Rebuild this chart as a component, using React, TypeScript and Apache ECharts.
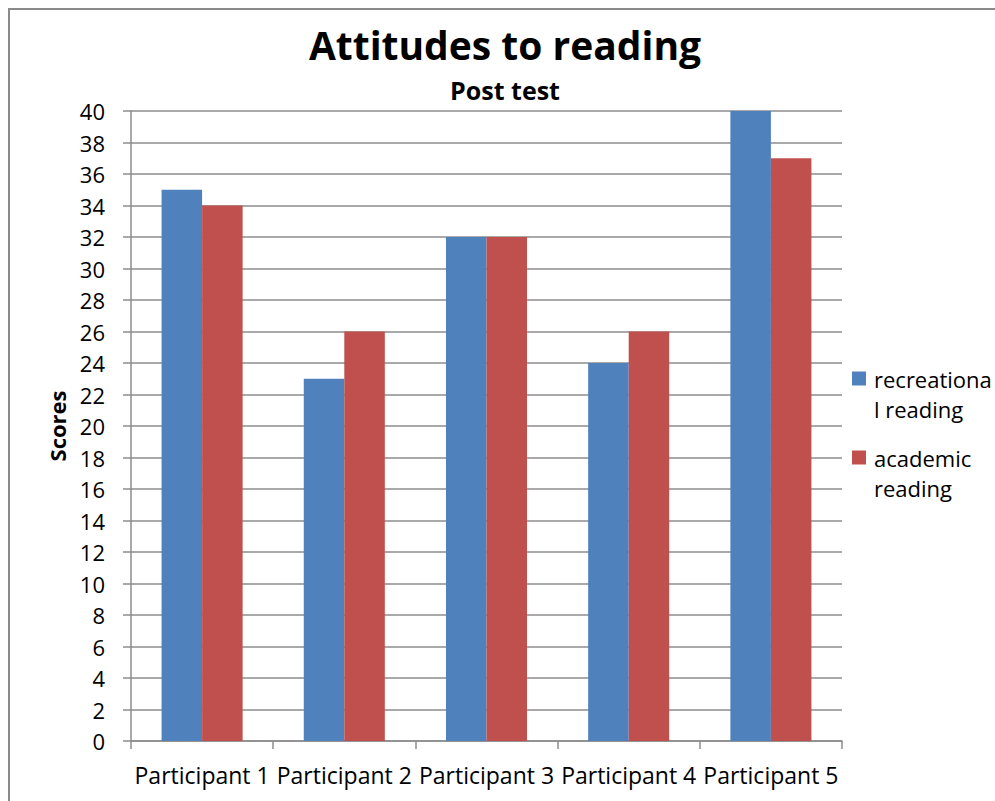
import React, { useEffect, useRef } from "react";
import * as echarts from "echarts";

const categories = ["Participant 1", "Participant 2", "Participant 3", "Participant 4", "Participant 5"];
const recreational = [35, 23, 32, 24, 40];
const academic = [34, 26, 32, 26, 37];
const seriesNames = ["recreational reading", "academic reading"];
const legendLabels = [" \nrecreationa\nl reading", " \nacademic\nreading"];
const seriesColors = ["#4F81BD", "#C0504D"];
const yMin = 0;
const yMax = 40;
const yInterval = 2;

const FONT = "'Open Sans', sans-serif";
const GRID_COLOR = "#8c8c8c";

export default function App() {
  const ref = useRef<HTMLDivElement>(null);
  useEffect(() => {
    if (!ref.current) return;
    const chart = echarts.init(ref.current, undefined, { renderer: "svg" });
    const legendTops = [380 - 46.5, 459 - 46.5];
    chart.setOption({
      animation: false,
      backgroundColor: "#ffffff",
      textStyle: { fontFamily: FONT, color: "#000" },
      graphic: [
        {
          type: "rect",
          shape: { x: 9, y: 9, width: 1100, height: 900 },
          style: { fill: "none", stroke: "#8a8a8a", lineWidth: 2 },
          silent: true,
        },
      ],
      title: [
        {
          text: "Attitudes to reading",
          left: 505,
          textAlign: "center",
          top: 19,
          padding: 0,
          textStyle: { fontFamily: FONT, fontSize: 39, fontWeight: "bold", color: "#000", lineHeight: 50 },
        },
        {
          text: "Post test",
          left: 505,
          textAlign: "center",
          top: 75,
          padding: 0,
          textStyle: { fontFamily: FONT, fontSize: 25, fontWeight: "bold", color: "#000", lineHeight: 30 },
        },
      ],
      legend: seriesNames.map((name, i) => ({
        data: [name],
        left: 852,
        top: legendTops[i],
        orient: "vertical",
        icon: "rect",
        itemWidth: 14,
        itemHeight: 14,
        padding: 0,
        selectedMode: false,
        formatter: () => legendLabels[i],
        textStyle: {
          fontFamily: FONT,
          fontSize: 22,
          color: "#000",
          lineHeight: 30,
          padding: [0, 0, 0, 3],
        },
      })),
      grid: { left: 131, top: 111, right: 153, bottom: 60, containLabel: false },
      xAxis: {
        type: "category",
        data: categories,
        axisLine: { lineStyle: { color: GRID_COLOR, width: 1.5 } },
        axisTick: { show: true, length: 8, alignWithLabel: false, lineStyle: { color: GRID_COLOR, width: 1.5 } },
        axisLabel: { interval: 0, margin: 22, fontFamily: FONT, fontSize: 23, color: "#000" },
        splitLine: { show: false },
      },
      yAxis: {
        type: "value",
        min: yMin,
        max: yMax,
        interval: yInterval,
        name: "Scores",
        nameLocation: "middle",
        nameRotate: 90,
        nameGap: 63,
        nameTextStyle: { fontFamily: FONT, fontSize: 22, fontWeight: "bold", color: "#000" },
        axisLine: { show: true, lineStyle: { color: GRID_COLOR, width: 1.5 } },
        axisTick: { show: true, length: 8, lineStyle: { color: GRID_COLOR, width: 1.5 } },
        axisLabel: { margin: 26, fontFamily: FONT, fontSize: 22, color: "#000" },
        splitLine: { show: true, lineStyle: { color: GRID_COLOR, width: 1.5 } },
      },
      series: [
        {
          name: seriesNames[0],
          type: "bar",
          data: recreational,
          itemStyle: { color: seriesColors[0] },
          barGap: "0%",
          barCategoryGap: "43%",
        },
        {
          name: seriesNames[1],
          type: "bar",
          data: academic,
          itemStyle: { color: seriesColors[1] },
          barGap: "0%",
          barCategoryGap: "43%",
        },
      ],
    });
    return () => chart.dispose();
  }, []);
  return (
    <div
      ref={ref}
      style={{ position: "absolute", left: 0, top: 0, width: 995, height: 801 }}
    />
  );
}
